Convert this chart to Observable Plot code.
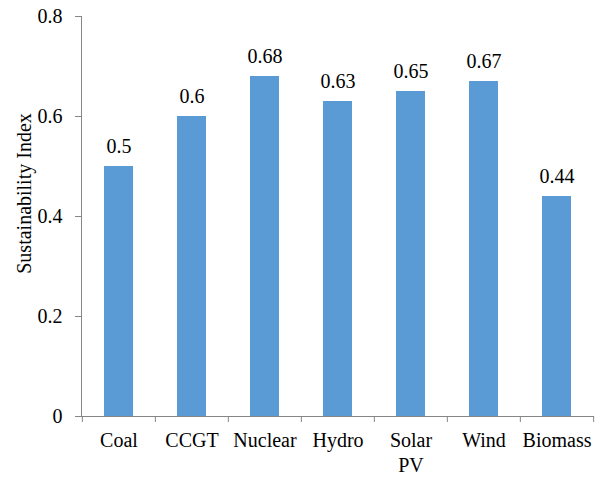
<!DOCTYPE html>
<html>
<head>
<meta charset="utf-8">
<script src="https://cdn.jsdelivr.net/npm/d3@7"></script>
<script src="https://cdn.jsdelivr.net/npm/@observablehq/plot@0.6"></script>
<style>
  html, body { margin: 0; padding: 0; background: #fff; }
  svg text { font-family: "Liberation Serif", "Times New Roman", serif; }
</style>
</head>
<body>
<div id="chart"></div>
<script>
const categories = ["Coal", "CCGT", "Nuclear", "Hydro", "Solar PV", "Wind", "Biomass"];
const values = [0.5, 0.6, 0.68, 0.63, 0.65, 0.67, 0.44];
const valueLabels = ["0.5", "0.6", "0.68", "0.63", "0.65", "0.67", "0.44"];
const yTicks = [0, 0.2, 0.4, 0.6, 0.8];
const yTickLabels = ["0", "0.2", "0.4", "0.6", "0.8"];
const yTitle = "Sustainability Index";

const data = categories.map((c, i) => ({cat: c, value: values[i], label: valueLabels[i]}));

const W = 612, H = 478, ML = 81, MR = 18, MT = 16, MB = 62;
const step = (W - ML - MR) / categories.length;
const axisColor = "#868686";
const serif = "Liberation Serif, Times New Roman, serif";

const chart = Plot.plot({
  width: W, height: H,
  marginLeft: ML, marginRight: MR, marginTop: MT, marginBottom: MB,
  style: {fontFamily: serif, fontSize: "20px", color: "#000", background: "#fff"},
  x: {domain: categories, paddingInner: 0.6, paddingOuter: 0.3, axis: null, label: null},
  y: {domain: [0, 0.8], axis: null, label: null},
  marks: [
    Plot.barY(data, {x: "cat", y: "value", fill: "#5B9BD5"}),
    Plot.text(data, {x: "cat", y: "value", text: "label", lineAnchor: "bottom", dy: -14, fontSize: 20, fontFamily: serif}),
    Plot.ruleY([0], {stroke: axisColor}),
    Plot.frame({anchor: "left", stroke: axisColor}),
    Plot.axisY({ticks: yTicks, tickFormat: d => yTickLabels[yTicks.indexOf(d)], tickSize: 6, tickPadding: 13, stroke: axisColor, fill: "#000", fontSize: 20, fontFamily: serif, label: null}),
    Plot.axisX({tickSize: 6, dx: -step / 2, tickFormat: () => "", stroke: axisColor, label: null}),
    Plot.axisX({ticks: [categories[categories.length - 1]], tickSize: 6, dx: step / 2, tickFormat: () => "", stroke: axisColor, label: null}),
    Plot.axisX({tickSize: 0, tickPadding: 13, tickFormat: d => d.replace(" ", "\n"), lineHeight: 1.25, fill: "#000", fontSize: 20, fontFamily: serif, label: null}),
    Plot.text([yTitle], {frameAnchor: "left", textAnchor: "middle", text: d => d, rotate: -90, dx: -57, dy: -23, fontSize: 20, fontFamily: serif})
  ]
});
document.getElementById("chart").appendChild(chart);
</script>
</body>
</html>
